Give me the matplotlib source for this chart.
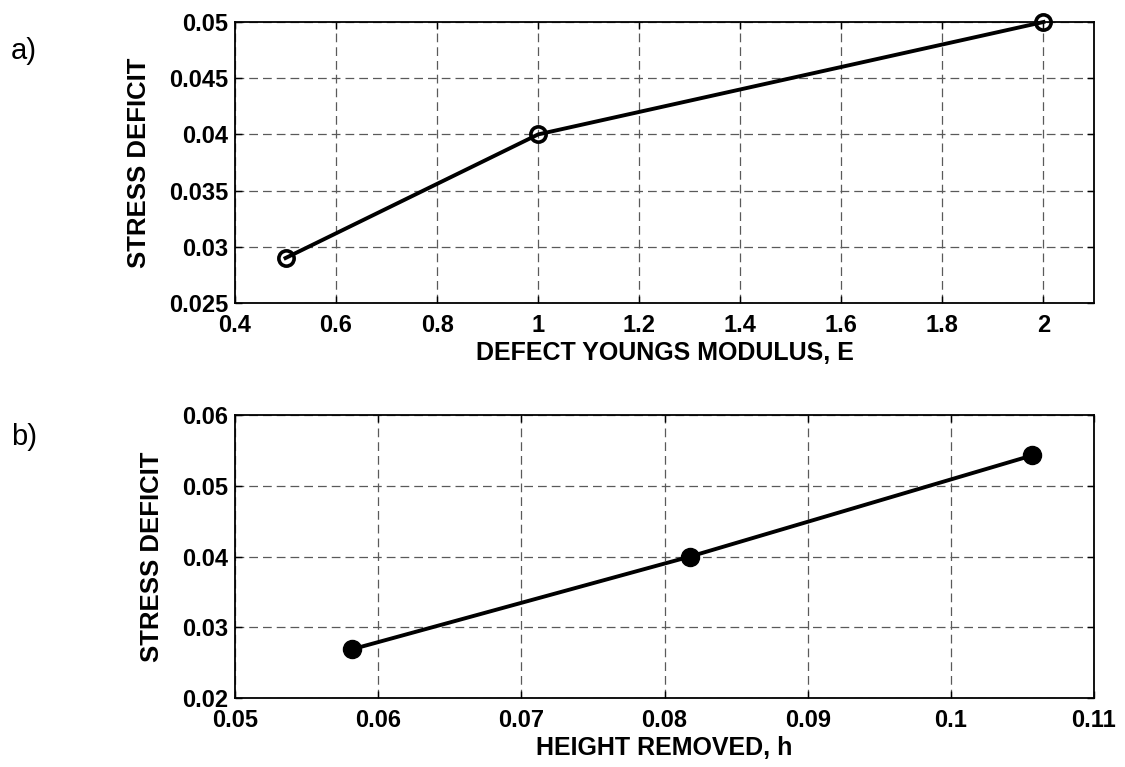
import matplotlib
matplotlib.use('Agg')
import matplotlib.pyplot as plt

# panel a) stress deficit vs defect youngs modulus
modulus = [0.5, 1.0, 2.0]
deficit_a = [0.029, 0.040, 0.050]

# panel b) stress deficit vs height removed
height = [0.0582, 0.0818, 0.1057]
deficit_b = [0.0269, 0.0400, 0.0543]

plt.rcParams['font.family'] = ['Liberation Sans', 'DejaVu Sans']

W, H = 1125, 767
fig = plt.figure(figsize=(W / 100, H / 100), dpi=100)

def px_axes(l, t, r, b):
  # axes box from pixel edges of the reference
  return fig.add_axes([l / W, 1 - b / H, (r - l) / W, (b - t) / H])

def style(ax):
  ax.grid(True, linestyle=(0, (7, 4)), color='#5a5a5a', linewidth=0.9)
  ax.tick_params(direction='in', top=True, right=True, length=5, width=1,
                 labelsize=17)
  ax.tick_params(axis='x', pad=8)
  ax.tick_params(axis='y', pad=5)
  for lab in ax.get_xticklabels() + ax.get_yticklabels():
    lab.set_fontweight('bold')
  for s in ax.spines.values():
    s.set_linewidth(1.3)

ax1 = px_axes(235, 22, 1094, 303)
ax1.plot(modulus, deficit_a, color='black', linewidth=2.8, marker='o',
         markersize=11, markerfacecolor='none', markeredgewidth=2.6, clip_on=False)
ax1.set_xlim(0.4, 2.1)
ax1.set_ylim(0.025, 0.05)
ax1.set_xticks([0.4, 0.6, 0.8, 1, 1.2, 1.4, 1.6, 1.8, 2])
ax1.set_xticklabels(['0.4', '0.6', '0.8', '1', '1.2', '1.4', '1.6', '1.8', '2'])
ax1.set_yticks([0.025, 0.03, 0.035, 0.04, 0.045, 0.05])
ax1.set_yticklabels(['0.025', '0.03', '0.035', '0.04', '0.045', '0.05'])
ax1.set_xlabel('DEFECT YOUNGS MODULUS, E', fontsize=18, fontweight='bold', labelpad=3)
ax1.set_ylabel('STRESS DEFICIT', fontsize=18.5, fontweight='bold', labelpad=13)
style(ax1)

ax2 = px_axes(235, 415, 1094, 698)
ax2.plot(height, deficit_b, color='black', linewidth=2.8, marker='o',
         markersize=13, markerfacecolor='black', clip_on=False)
ax2.set_xlim(0.05, 0.11)
ax2.set_ylim(0.02, 0.06)
ax2.set_xticks([0.05, 0.06, 0.07, 0.08, 0.09, 0.1, 0.11])
ax2.set_xticklabels(['0.05', '0.06', '0.07', '0.08', '0.09', '0.1', '0.11'])
ax2.set_yticks([0.02, 0.03, 0.04, 0.05, 0.06])
ax2.set_yticklabels(['0.02', '0.03', '0.04', '0.05', '0.06'])
ax2.set_xlabel('HEIGHT REMOVED, h', fontsize=18, fontweight='bold', labelpad=3)
ax2.set_ylabel('STRESS DEFICIT', fontsize=18.5, fontweight='bold', labelpad=13)
style(ax2)

fig.text(11 / W, 1 - 51 / H, 'a)', fontsize=21, va='center', ha='left')
fig.text(11 / W, 1 - 437 / H, 'b)', fontsize=21, va='center', ha='left')

fig.savefig('out.png', dpi=100, facecolor='white')
